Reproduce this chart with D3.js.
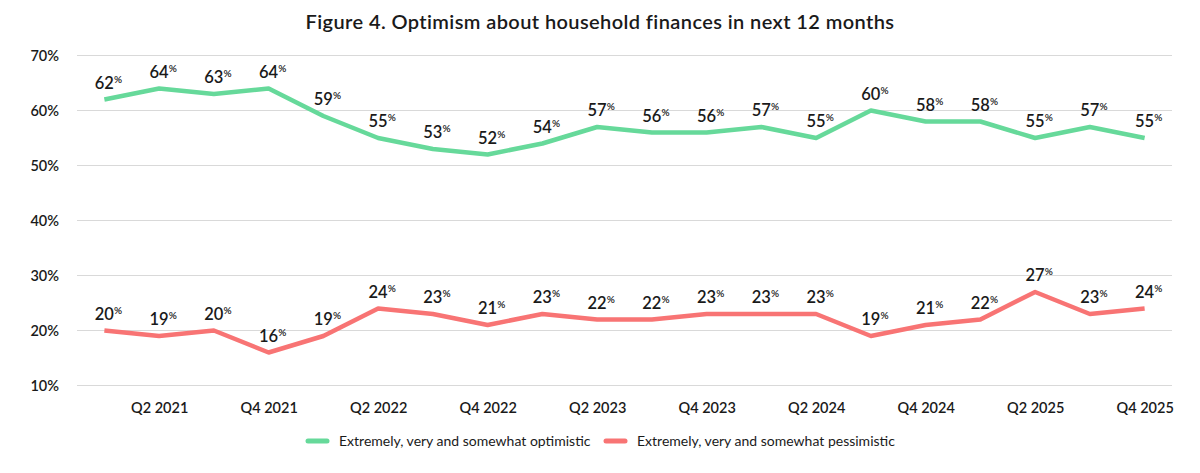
<!DOCTYPE html>
<html><head><meta charset="utf-8">
<script src="https://cdn.jsdelivr.net/npm/d3@7"></script>
<style>
body{margin:0;background:#fff;font-family:Lato,"Open Sans",sans-serif;}
svg text{fill:#1a1a1a;}
</style></head><body>
<svg id="c" width="1200" height="473"></svg>
<script>
const quarters = ["Q1 2021","Q2 2021","Q3 2021","Q4 2021","Q1 2022","Q2 2022","Q3 2022","Q4 2022","Q1 2023","Q2 2023","Q3 2023","Q4 2023","Q1 2024","Q2 2024","Q3 2024","Q4 2024","Q1 2025","Q2 2025","Q3 2025","Q4 2025"];
const optimistic = [62,64,63,64,59,55,53,52,54,57,56,56,57,55,60,58,58,55,57,55];
const pessimistic = [20,19,20,16,19,24,23,21,23,22,22,23,23,23,19,21,22,27,23,24];
const yTicks = [10,20,30,40,50,60,70];
const seriesNames = ["Extremely, very and somewhat optimistic","Extremely, very and somewhat pessimistic"];
const colors = ["#66d99a","#f87474"];

const svg = d3.select("#c");
const x = d3.scalePoint().domain(quarters).range([77,1172]).padding(0.5);
const y = d3.scaleLinear().domain([10,70]).range([385.5,55.5]);

svg.append("text").attr("x",600).attr("y",29).attr("text-anchor","middle")
  .attr("font-size",20).attr("letter-spacing",0.4).attr("font-weight",600).text("Figure 4. Optimism about household finances in next 12 months");

// grid
svg.append("g").selectAll("line").data(yTicks).join("line")
  .attr("x1",77).attr("x2",1172).attr("y1",d=>y(d)).attr("y2",d=>y(d))
  .attr("stroke","#d9d9d9").attr("stroke-width",1);

// y axis
const ya = svg.append("g").attr("transform","translate(59,0)")
  .call(d3.axisLeft(y).tickValues(yTicks).tickFormat(d=>d+"%").tickSize(0).tickPadding(0));
ya.select(".domain").remove();
ya.selectAll("text").attr("font-size",14.5).attr("font-weight",600).attr("font-family","Lato,sans-serif").attr("fill","#1a1a1a");

// x axis
const xa = svg.append("g").attr("transform","translate(0,400)")
  .call(d3.axisBottom(x).tickValues(quarters.filter((d,i)=>i%2===1)).tickSize(0).tickPadding(0));
xa.select(".domain").remove();
xa.selectAll("text").attr("dy","0.71em").attr("y",3).attr("font-size",14.5).attr("font-weight",600).attr("font-family","Lato,sans-serif").attr("fill","#1a1a1a");

const line = d3.line().x((d,i)=>x(quarters[i])).y(d=>y(d));
[optimistic,pessimistic].forEach((s,k)=>{
  svg.append("path").datum(s).attr("d",line).attr("fill","none")
    .attr("stroke",colors[k]).attr("stroke-width",4.5).attr("stroke-linejoin","round");
  const lab = svg.append("g").selectAll("text").data(s).join("text")
    .attr("x",(d,i)=>x(quarters[i])).attr("y",d=>y(d)-11)
    .attr("text-anchor","start").attr("font-size",16.5).attr("font-weight",600);
  lab.each(function(d,i){
    const t = d3.select(this);
    t.append("tspan").text(d);
    t.append("tspan").attr("font-size",10).attr("dy",-6).text("%");
  });
  lab.each(function(d,i){
    const t = d3.select(this);
    const w = t.select("tspan").node().getComputedTextLength();
    t.attr("x", x(quarters[i]) - w/2);
  });
});

// legend
const lg = svg.append("g");
const lx = [308,606];
seriesNames.forEach((n,k)=>{
  lg.append("line").attr("x1",lx[k]).attr("x2",lx[k]+19).attr("y1",441).attr("y2",441)
    .attr("stroke",colors[k]).attr("stroke-width",5).attr("stroke-linecap","round");
  lg.append("text").attr("x",lx[k]+31).attr("y",446).attr("font-size",14).text(n);
});
</script>
</body></html>
